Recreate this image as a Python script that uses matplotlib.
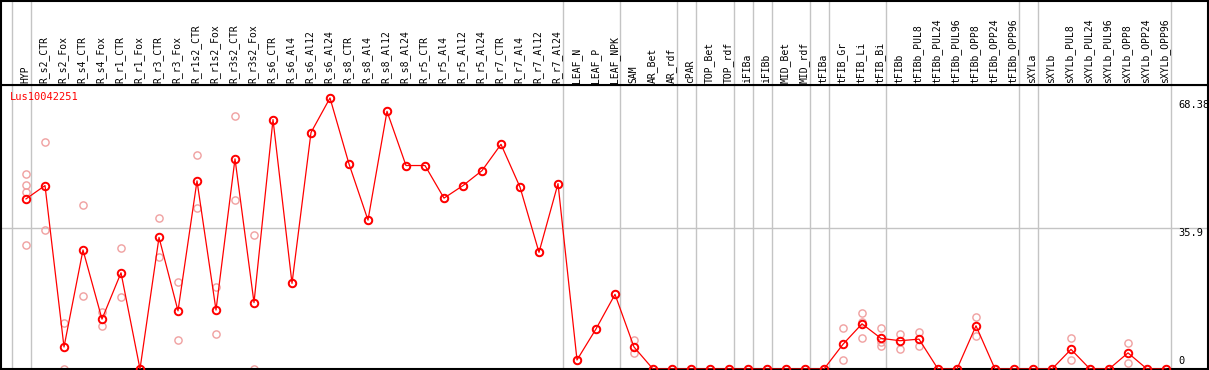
import matplotlib
matplotlib.use('Agg')
import matplotlib.pyplot as plt

gene = 'Lus10042251'

samples = ['HYP', 'R_s2_CTR', 'R_s2_Fox', 'R_s4_CTR', 'R_s4_Fox', 'R_r1_CTR', 'R_r1_Fox',
           'R_r3_CTR', 'R_r3_Fox', 'R_r1s2_CTR', 'R_r1s2_Fox', 'R_r3s2_CTR', 'R_r3s2_Fox',
           'R_s6_CTR', 'R_s6_Al4', 'R_s6_Al12', 'R_s6_Al24', 'R_s8_CTR', 'R_s8_Al4',
           'R_s8_Al12', 'R_s8_Al24', 'R_r5_CTR', 'R_r5_Al4', 'R_r5_Al12', 'R_r5_Al24',
           'R_r7_CTR', 'R_r7_Al4', 'R_r7_Al12', 'R_r7_Al24', 'LEAF_N', 'LEAF_P', 'LEAF_NPK',
           'SAM', 'AR_Bet', 'AR_rdf', 'cPAR', 'TOP_Bet', 'TOP_rdf', 'iFIBa', 'iFIBb',
           'MID_Bet', 'MID_rdf', 'tFIBa', 'tFIB_Gr', 'tFIB_Li', 'tFIB_Bi', 'tFIBb',
           'tFIBb_PUL8', 'tFIBb_PUL24', 'tFIBb_PUL96', 'tFIBb_OPP8', 'tFIBb_OPP24',
           'tFIBb_OPP96', 'sXYLa', 'sXYLb', 'sXYLb_PUL8', 'sXYLb_PUL24', 'sXYLb_PUL96',
           'sXYLb_OPP8', 'sXYLb_OPP24', 'sXYLb_OPP96']

# mean expression per sample
means = [43.3, 46.7, 5.6, 30.3, 12.7, 24.5, 0.0, 33.5, 14.8, 47.9, 15.0, 53.5, 16.9,
         63.5, 21.8, 60.2, 69.0, 52.2, 37.9, 65.6, 51.8, 51.8, 43.5, 46.7, 50.5,
         57.2, 46.3, 29.7, 47.2, 2.3, 10.2, 19.0,
         5.6, 0.0, 0.0, 0.0, 0.0, 0.0, 0.0, 0.0,
         0.0, 0.0, 0.0, 6.3, 11.5, 7.8, 7.2,
         7.6, 0.0, 0.0, 11.0, 0.0,
         0.0, 0.0, 0.0, 5.0, 0.0, 0.0,
         4.1, 0.0, 0.0]

# replicate values (light circles)
replicates = [[49.7, 46.8, 45.0, 31.5], [57.9, 35.4], [11.6, 0.0], [41.7, 18.7], [14.4, 10.9],
              [30.7, 18.4], [0.0, 0.0], [38.4, 28.4], [22.1, 7.4], [54.5, 40.9], [21.0, 8.9],
              [64.3, 43.0], [34.0, 0.0],
              [63.5], [21.8], [60.2], [69.0], [52.2], [37.9], [65.6], [51.8], [51.8], [43.5],
              [46.7], [50.5], [57.2], [46.3], [29.7], [47.2], [2.3], [10.2], [19.0],
              [7.4, 4.2], [0.0], [0.0], [0.0], [0.0], [0.0], [0.0], [0.0],
              [0.0], [0.0], [0.0], [10.4, 2.4], [14.3, 11.9, 7.9], [10.4, 7.0, 5.8], [8.9, 5.2],
              [9.5, 5.9], [0.0], [0.0], [13.3, 8.4], [0.0],
              [0.0], [0.0], [0.0], [7.9, 2.2], [0.0], [0.0],
              [6.7, 1.5], [0.0], [0.0]]

# group separators come after these sample indices
group_ends = [-1, 0, 28, 31, 34, 35, 37, 38, 39, 41, 42, 45, 52, 53, 60]

y_labels = [68.38, 35.9, 0]

W, H = 1209, 370
fig = plt.figure(figsize=(W / 100, H / 100), dpi=100)
fig.patch.set_facecolor('white')

x_lo = (1 - 26) / 19
x_hi = (1208 - 26) / 19
y_top = 72.3

ax = fig.add_axes([1 / W, 1 / H, 1207 / W, 284 / H])
head = fig.add_axes([1 / W, 285 / H, 1207 / W, 84.5 / H])

for a in (ax, head):
    a.set_xlim(x_lo, x_hi)
    a.set_xticks([])
    a.set_yticks([])
    for s in a.spines.values():
        s.set_color('black')
        s.set_linewidth(1.5)
    for g in group_ends:
        a.axvline(g + 0.25, color='#c4c4c4', lw=1.0, zorder=0)

head.set_ylim(0, 1)
ax.set_ylim(0, y_top)
ax.axhline(35.9, color='#c4c4c4', lw=1.0, zorder=0)

xs = list(range(len(samples)))
for i, reps in enumerate(replicates):
    ax.plot([i] * len(reps), reps, linestyle='none', marker='o', ms=5.2, mfc='none',
            mec='#f0a0a0', mew=1.0, zorder=2)

ax.plot(xs, means, color='#ff0000', lw=0.9, marker='o', ms=5.4, mfc='none',
        mec='#ff0000', mew=1.4, zorder=3)

for i, name in enumerate(samples):
    head.text(i - 0.05, 0.025, name, rotation=90, ha='center', va='bottom',
              fontsize=7, family='DejaVu Sans Mono', color='black')

ax.text(9 / 1207, 69.3, gene, color='#ff0000', fontsize=7.5,
        family='DejaVu Sans Mono', ha='left', va='center',
        transform=ax.get_yaxis_transform())

for v in y_labels:
    ax.text(1177 / 1207, v if v > 0 else 0.8, str(v), fontsize=7.5,
            family='DejaVu Sans Mono', ha='left', va='top' if v > 0 else 'bottom',
            transform=ax.get_yaxis_transform())

fig.savefig('out.png', dpi=100, facecolor='white')
